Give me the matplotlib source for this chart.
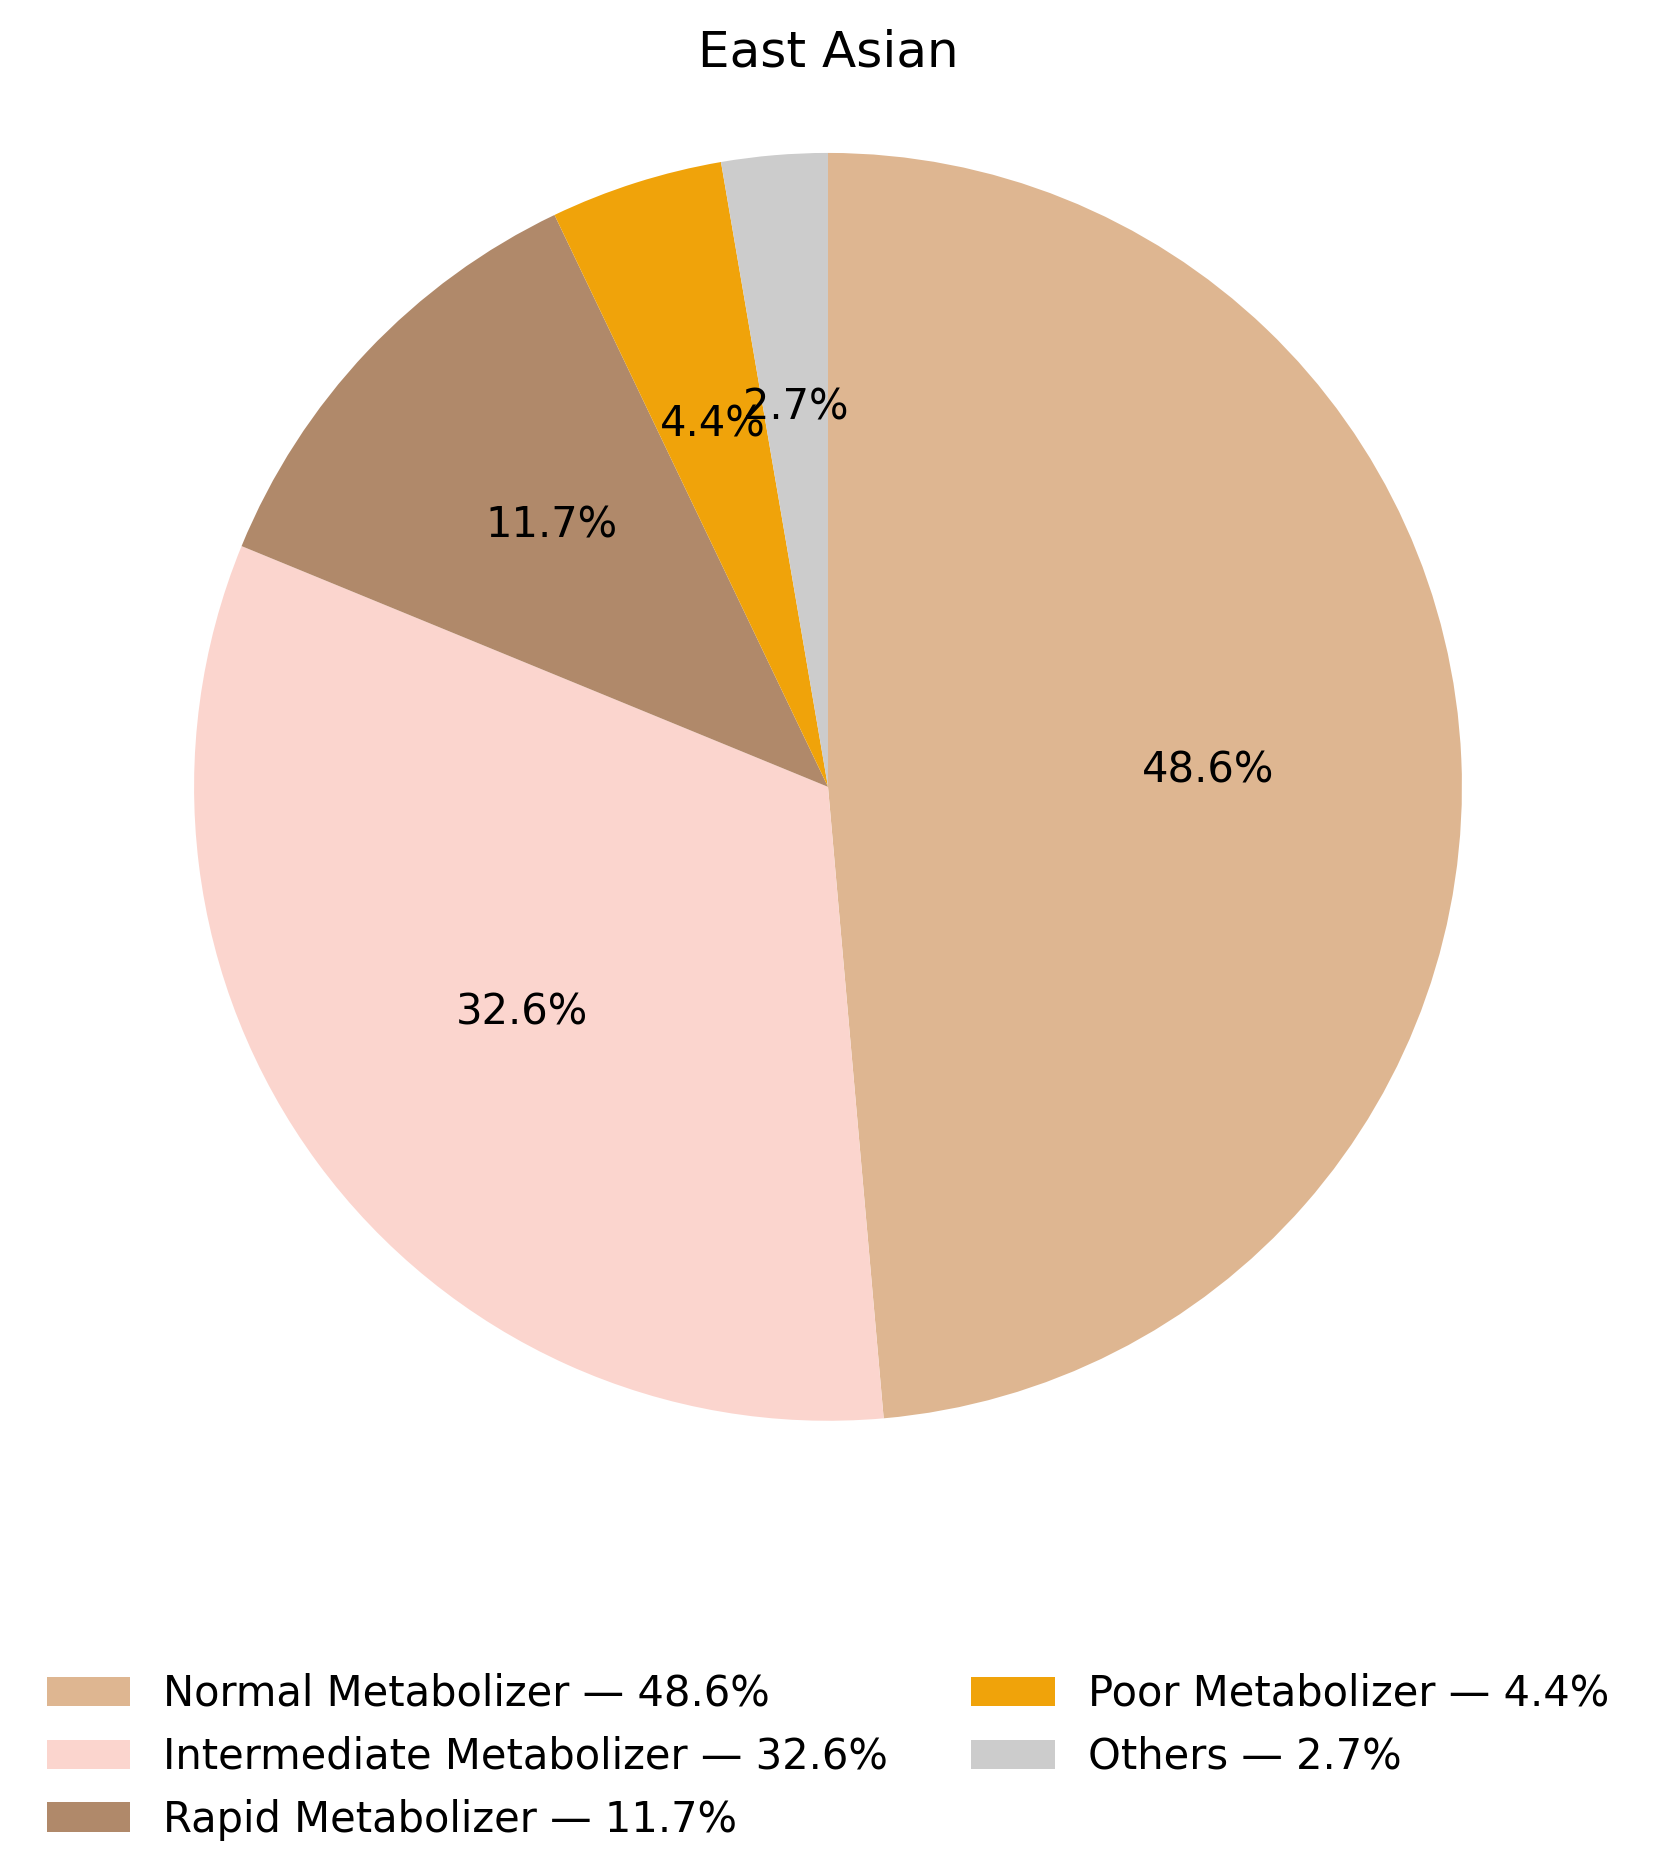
import matplotlib.pyplot as plt

labels = ["Normal Metabolizer", "Intermediate Metabolizer", "Rapid Metabolizer",
          "Poor Metabolizer", "Others"]
values = [48.6, 32.6, 11.7, 4.4, 2.7]
colors = ["#DEB691", "#FBD5CE", "#B0896A", "#F0A30A", "#CCCCCC"]

fig = plt.figure(figsize=(8.28, 9.345), dpi=200)
ax = fig.add_axes([0.0215, 0.154, 0.957, 0.85])
wedges, texts, autotexts = ax.pie(values, colors=colors, startangle=90, counterclock=False,
                                  autopct="%.1f%%", pctdistance=0.6,
                                  textprops={"fontsize": 15})
ax.set_aspect("equal")
fig.text(0.5, 0.972, "East Asian", ha="center", va="center", fontsize=18)
fig.legend(wedges, [f"{l} — {v}%" for l, v in zip(labels, values)],
           loc="upper center", bbox_to_anchor=(0.5, 0.125), ncol=2,
           frameon=False, fontsize=15, columnspacing=2.0)
fig.savefig("out.png")
